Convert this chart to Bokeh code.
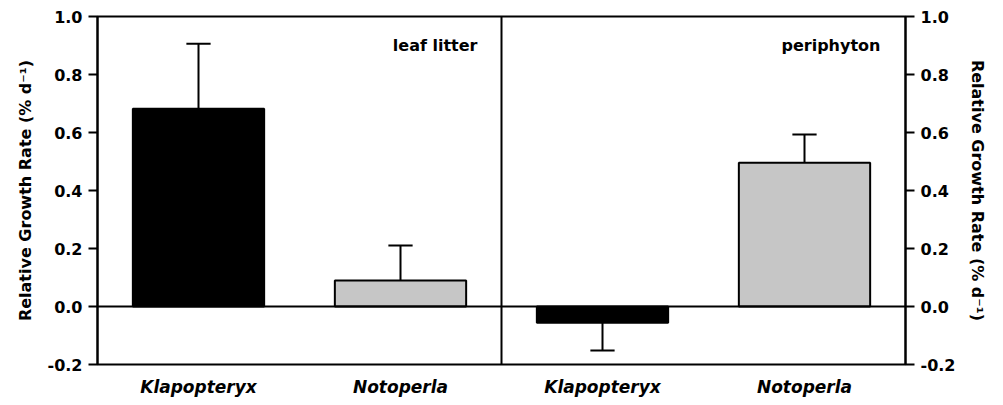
from bokeh.plotting import figure
from bokeh.models import (Range1d, LinearAxis, FixedTicker, PrintfTickFormatter,
                          Span, ColumnDataSource)
from bokeh.embed import file_html
from bokeh.resources import INLINE
from bokeh.core.properties import value

# ---- data ----
species = ["Klapopteryx", "Notoperla", "Klapopteryx", "Notoperla"]
food = ["leaf litter", "leaf litter", "periphyton", "periphyton"]
rgr = [0.682, 0.09, -0.056, 0.496]
err = [0.224, 0.12, 0.096, 0.097]
bar_colors = ["black", "#c6c6c6", "black", "#c6c6c6"]
y_ticks = [-0.2, 0.0, 0.2, 0.4, 0.6, 0.8, 1.0]
panel_labels = ["leaf litter", "periphyton"]

pos = [i + 0.5 for i in range(len(species))]
sign = [1 if v >= 0 else -1 for v in rgr]
tip = [v + s * e for v, s, e in zip(rgr, sign, err)]
cap_half = 0.06

src = ColumnDataSource(dict(x=pos, top=rgr, color=bar_colors, tip=tip,
                            x0=[x - cap_half for x in pos],
                            x1=[x + cap_half for x in pos]))

FONT = "DejaVu Sans"

p = figure(width=1000, height=402, output_backend="svg", toolbar_location=None,
           x_range=Range1d(0, 4), y_range=Range1d(-0.2, 1.0),
           min_border_left=97, min_border_right=95, min_border_top=16,
           min_border_bottom=38, y_axis_location=None, x_axis_location=None)
p.grid.visible = False
p.outline_line_color = "black"
p.outline_line_width = 2
p.background_fill_color = "white"
p.border_fill_color = "white"

# bars
p.vbar(x="x", width=0.65, top="top", bottom=0, fill_color="color",
       line_color="black", line_width=2, source=src)
# error bars
p.segment(x0="x", y0="top", x1="x", y1="tip", line_color="black", line_width=2, source=src)
p.segment(x0="x0", y0="tip", x1="x1", y1="tip", line_color="black", line_width=2, source=src)

# zero line and divider
p.add_layout(Span(location=0, dimension="width", line_color="black", line_width=2))
p.add_layout(Span(location=2, dimension="height", line_color="black", line_width=2))

# panel labels
p.text(x=[1.881, 3.876], y=[0.9, 0.9], text=panel_labels, text_align="right",
       text_baseline="middle", text_font=value(FONT), text_font_style="bold",
       text_font_size="16px", text_color="black")

label = "Relative Growth Rate (% d\u207b\u00b9)"

def style_y(ax):
    ax.ticker = FixedTicker(ticks=y_ticks)
    ax.formatter = PrintfTickFormatter(format="%.1f")
    ax.axis_line_width = 2
    ax.major_tick_line_width = 2
    ax.major_tick_out = 9
    ax.major_tick_in = 0
    ax.minor_tick_line_color = None
    ax.major_label_text_font = FONT
    ax.major_label_text_font_style = "bold"
    ax.major_label_text_font_size = "16px"
    ax.major_label_text_color = "black"
    ax.major_label_standoff = 6
    ax.axis_label = label
    ax.axis_label_text_font = FONT
    ax.axis_label_text_font_style = "bold"
    ax.axis_label_text_font_size = "16px"
    ax.axis_label_text_color = "black"
    ax.axis_label_standoff = 10

left = LinearAxis()
style_y(left)
p.add_layout(left, "left")
right = LinearAxis()
style_y(right)
p.add_layout(right, "right")

bottom = LinearAxis(ticker=FixedTicker(ticks=pos),
                    major_label_overrides={x: s for x, s in zip(pos, species)})
bottom.axis_line_color = None
bottom.major_tick_line_color = None
bottom.major_tick_out = 0
bottom.major_tick_in = 0
bottom.minor_tick_line_color = None
bottom.major_label_text_font = FONT
bottom.major_label_text_font_style = "bold italic"
bottom.major_label_text_font_size = "17px"
bottom.major_label_text_color = "black"
bottom.major_label_standoff = 12
p.add_layout(bottom, "below")

open("out.html", "w").write(file_html(p, INLINE))
